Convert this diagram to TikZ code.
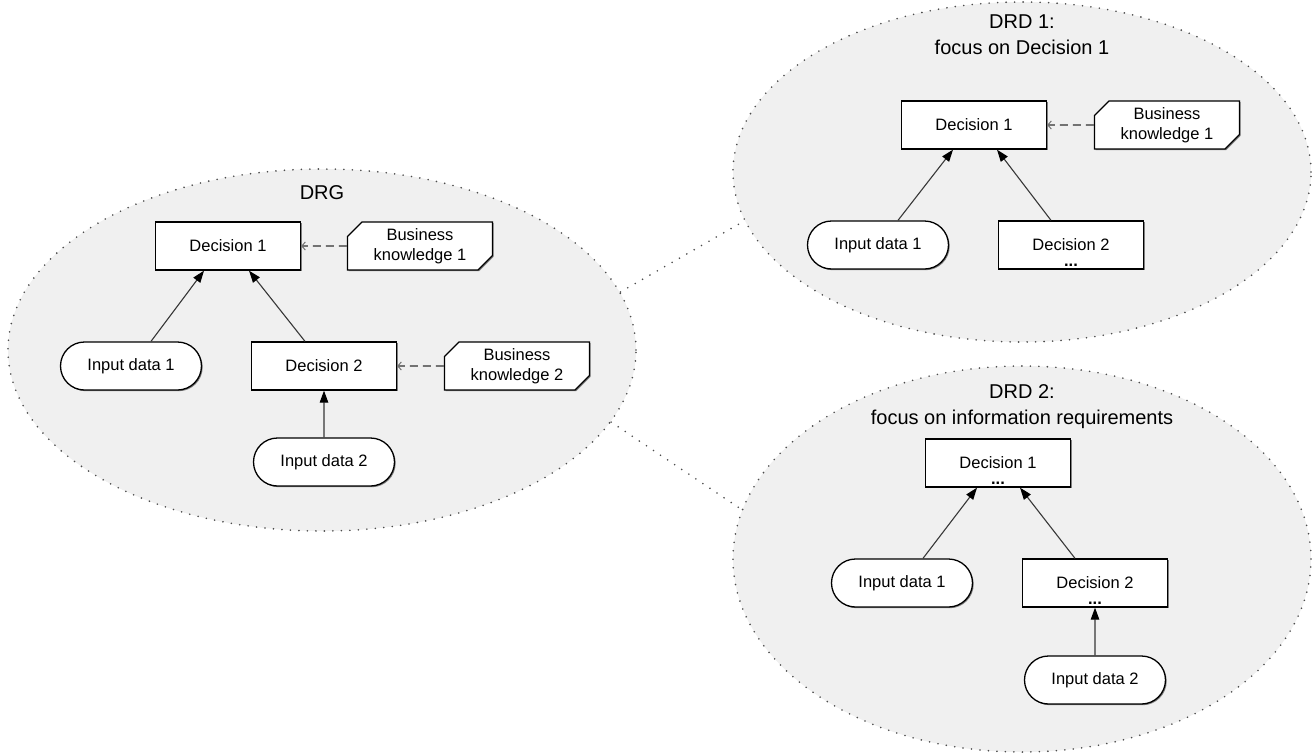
\documentclass[tikz,border=0pt]{standalone}
\usepackage{fontspec}
\setmainfont{Liberation Sans}
\usepackage{tikz}
\usetikzlibrary{arrows.meta,shapes.geometric,shapes.misc,shadows}
\definecolor{areacolor}{RGB}{240,240,240}
\definecolor{linecolor}{RGB}{55,55,55}
% text with the three dots hanging below it
\newcommand{\withdots}[1]{%
    \setbox0=\hbox{#1}%
    \rlap{\hbox to \wd0{\hss\smash{\raisebox{-16pt}{\bfseries ...}}\hss}}\box0}

\begin{document}
\begin{tikzpicture}[
    x = 1pt, y = -1pt, font = \fontsize{16.5}{20}\selectfont,
    box/.style  = {draw, line width = 1.3pt, fill = white, inner sep = 2pt,
                   minimum width = 145pt, minimum height = 48pt, align = center,
                   drop shadow = {shadow xshift = 1.2pt, shadow yshift = -1.2pt, fill = black!50, opacity = 1}},
    dec/.style  = {box, rectangle},
    inp/.style  = {box, rounded rectangle},
    bkm/.style  = {box, chamfered rectangle, chamfered rectangle xsep = 11pt,
                   chamfered rectangle corners = {north west, south east}},
    dotline/.style = {draw = black!70, line width = 1.8pt, line cap = round, dash pattern = on 0pt off 8.5pt},
    area/.style = {ellipse, inner sep = 0pt, fill = areacolor, dotline},
    info/.style = {-{Triangle[length = 12pt, width = 8.5pt, color = black]}, draw = linecolor, line width = 1.1pt},
    know/.style = {-{Straight Barb[length = 3.5pt, width = 8pt, line width = 1pt]}, draw = black!55,
                   line width = 1.6pt, dash pattern = on 8pt off 5pt},
    ttl/.style  = {align = center, font = \fontsize{20}{26}\selectfont}
    ]

\useasboundingbox (0,0) rectangle (1314,755);

% DRG
\node (drg) at (322,350) [area, minimum width = 628pt, minimum height = 362pt]{};
\node (drgT) at (322,199) [ttl, anchor = base]{DRG};
\node (gD1) at (228,246) [dec]{Decision 1};
\node (gK1) at (420,246) [bkm]{Business\\knowledge 1};
\node (gI1) at (131,366) [inp]{Input data 1};
\node (gD2) at (324,366) [dec]{Decision 2};
\node (gK2) at (517,366) [bkm]{Business\\knowledge 2};
\node (gI2) at (324,462) [inp]{Input data 2};

% DRD 1
\node (drd1) at (1022,172) [area, minimum width = 578pt, minimum height = 340pt]{};
\node (drd1T) at (1022,35) [ttl]{DRD 1:\\focus on Decision 1};
\node (aD1) at (974,125) [dec]{Decision 1};
\node (aK1) at (1167,125) [bkm]{Business\\knowledge 1};
\node (aI1) at (878,245) [inp]{Input data 1};
\node (aD2) at (1071,245) [dec]{\withdots{Decision 2}};

% DRD 2
\node (drd2) at (1022,559) [area, minimum width = 578pt, minimum height = 386pt]{};
\node (drd2T) at (1022,407) [ttl]{DRD 2:\\focus on information requirements};
\node (bD1) at (998,463) [dec]{\withdots{Decision 1}};
\node (bI1) at (902,583) [inp]{Input data 1};
\node (bD2) at (1095,583) [dec]{\withdots{Decision 2}};
\node (bI2) at (1095,680) [inp]{Input data 2};

\draw [dotline] (drg.11) -- (drd1.190);
\draw [dotline] (drg.-14) -- (drd2.170);

\draw [info] ([xshift = 20pt]gI1.north) -- ([xshift = -24pt]gD1.south);
\draw [info] ([xshift = -19pt]gD2.north) -- ([xshift = 21pt]gD1.south);
\draw [info] (gI2) -- (gD2);
\draw [know] (gK1) -- (gD1);
\draw [know] (gK2) -- (gD2);

\draw [info] ([xshift = 20pt]aI1.north) -- ([xshift = -21pt]aD1.south);
\draw [info] ([xshift = -20pt]aD2.north) -- ([xshift = 23pt]aD1.south);
\draw [know] (aK1) -- (aD1);

\draw [info] ([xshift = 21pt]bI1.north) -- ([xshift = -21pt]bD1.south);
\draw [info] ([xshift = -20pt]bD2.north) -- ([xshift = 22pt]bD1.south);
\draw [info] (bI2) -- (bD2);
\end{tikzpicture}
\end{document}
